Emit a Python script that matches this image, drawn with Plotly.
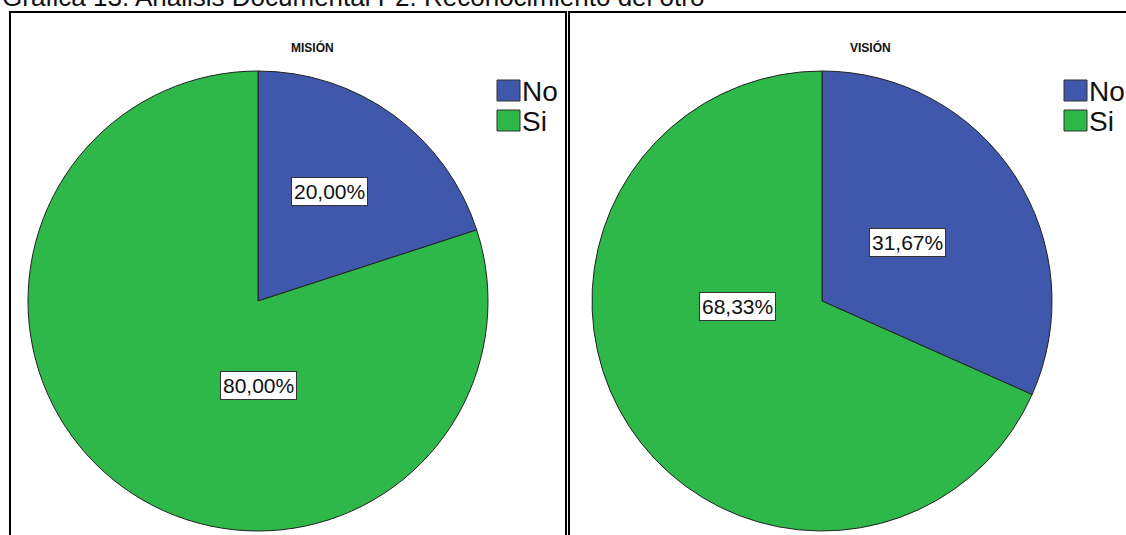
import plotly.graph_objects as go

W, H = 1126, 535

categories = ["No", "Si"]
mision_values = [20.00, 80.00]
vision_values = [31.67, 68.33]
panel_titles = ["MISIÓN", "VISIÓN"]
title_text = "Gráfica 13. Análisis Documental P2. Reconocimiento del otro"

colors = ["#3F58AC", "#2EB84A"]
FONT = "Arial, Liberation Sans, sans-serif"

def px_x(x):
    return x / W

def px_y(y):
    return 1 - y / H

def fmt(v):
    return f"{v:.2f}".replace(".", ",") + "%"

fig = go.Figure()

pies = [
    dict(values=mision_values, cx=258, cy=301, r=230, title=panel_titles[0],
         title_x=312, legend_x=497,
         label_pos=[(329, 192), (258, 385)]),
    dict(values=vision_values, cx=822, cy=301, r=230, title=panel_titles[1],
         title_x=870, legend_x=1064,
         label_pos=[(907, 242), (737, 306)]),
]

for p in pies:
    fig.add_trace(go.Pie(
        labels=categories,
        values=p["values"],
        sort=False,
        direction="clockwise",
        rotation=0,
        marker=dict(colors=colors, line=dict(color="#222222", width=1)),
        textinfo="none",
        hoverinfo="label+percent",
        showlegend=False,
        domain=dict(x=[px_x(p["cx"] - p["r"]), px_x(p["cx"] + p["r"])],
                    y=[px_y(p["cy"] + p["r"]), px_y(p["cy"] - p["r"])]),
    ))
    for (lx, ly), v in zip(p["label_pos"], p["values"]):
        fig.add_annotation(
            x=px_x(lx), y=px_y(ly), xref="paper", yref="paper",
            text=fmt(v), showarrow=False,
            font=dict(family=FONT, size=21, color="#111111"),
            bgcolor="white", bordercolor="#333333", borderwidth=1, borderpad=2,
            xanchor="center", yanchor="middle",
        )
    fig.add_annotation(
        x=px_x(p["title_x"]), y=px_y(48), xref="paper", yref="paper",
        text=f"<b>{p['title']}</b>", showarrow=False,
        font=dict(family=FONT, size=12, color="#111111"),
        xanchor="center", yanchor="middle",
    )
    for i, (cat, col) in enumerate(zip(categories, colors)):
        y0 = 80 + i * 30
        fig.add_shape(type="rect", xref="paper", yref="paper",
                      x0=px_x(p["legend_x"]), x1=px_x(p["legend_x"] + 23),
                      y0=px_y(y0 + 21), y1=px_y(y0),
                      fillcolor=col, line=dict(color="#333333", width=1))
        fig.add_annotation(
            x=px_x(p["legend_x"] + 23), y=px_y(y0 + 11), xref="paper", yref="paper",
            text=cat, showarrow=False,
            font=dict(family=FONT, size=28, color="#111111"),
            xanchor="left", yanchor="middle",
        )

fig.add_shape(type="rect", xref="paper", yref="paper",
              x0=px_x(10), x1=px_x(566), y0=px_y(545), y1=px_y(12),
              line=dict(color="black", width=2), fillcolor="rgba(0,0,0,0)", layer="below")
fig.add_shape(type="rect", xref="paper", yref="paper",
              x0=px_x(569), x1=px_x(1140), y0=px_y(545), y1=px_y(12),
              line=dict(color="black", width=2), fillcolor="rgba(0,0,0,0)", layer="below")

fig.add_annotation(
    x=0, y=px_y(14), xref="paper", yref="paper",
    text=title_text, showarrow=False,
    font=dict(family=FONT, size=26, color="#111111"),
    xanchor="left", yanchor="bottom",
)

fig.update_layout(
    width=W, height=H,
    margin=dict(l=0, r=0, t=0, b=0),
    paper_bgcolor="white", plot_bgcolor="white",
    showlegend=False,
)

fig.write_html("out.html",
               config={"displayModeBar": False},
               post_script="document.body.style.margin='0';document.body.style.overflow='hidden';")
